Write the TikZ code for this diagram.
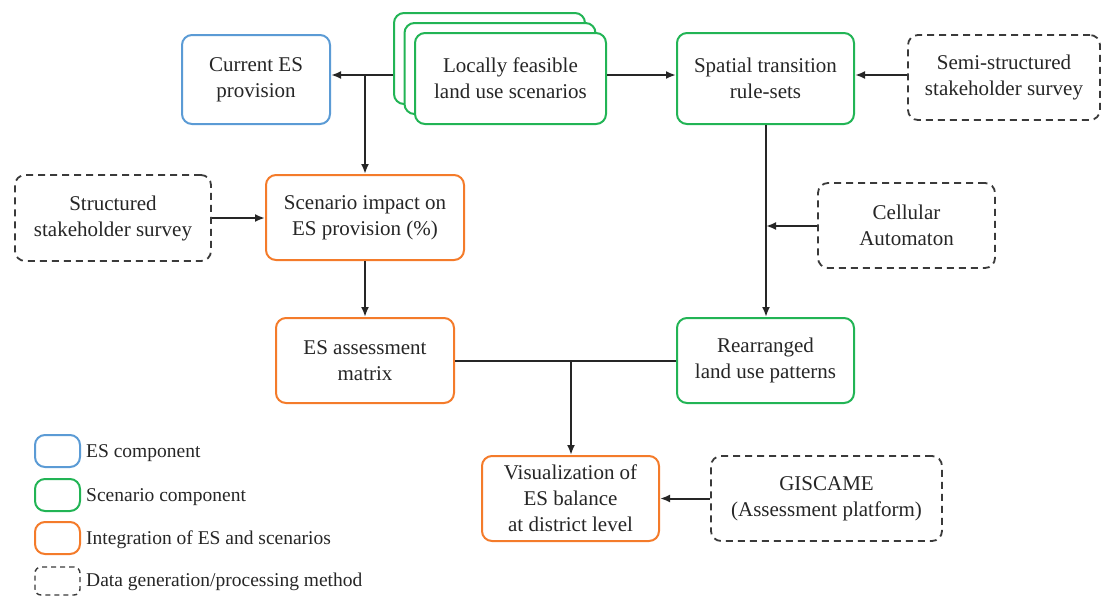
\documentclass[tikz,border=0pt]{standalone}
\usepackage{fontspec}
\setmainfont{Liberation Serif}
\usetikzlibrary{arrows.meta}
\definecolor{esblue}{HTML}{5B9BD5}
\definecolor{scgreen}{HTML}{22B455}
\definecolor{intorange}{HTML}{F47B2A}
\definecolor{methgray}{HTML}{3A3A3A}
\definecolor{txt}{HTML}{262626}
\tikzset{
  box/.style={draw, rounded corners=10pt, line width=2pt, align=center,
    inner sep=0pt, text=txt, fill=white,
    font=\fontsize{21}{26}\selectfont},
  esbox/.style={box, draw=esblue},
  scbox/.style={box, draw=scgreen},
  intbox/.style={box, draw=intorange},
  methbox/.style={box, draw=methgray, line width=1.8pt,
    dash pattern=on 7pt off 5pt},
  arr/.style={line width=2pt, draw=black!85,
    -{Latex[length=10pt,width=8pt]}},
  link/.style={line width=2pt, draw=black!85},
  legtext/.style={anchor=west, inner sep=0pt, text=txt,
    font=\fontsize{19.5}{24}\selectfont}
}
\begin{document}
\begin{tikzpicture}[x=1pt, y=-1pt]
\useasboundingbox (0,0) rectangle (1102,595);

% ES component
\node[esbox, minimum width=148pt, minimum height=89pt] (cur) at (256,79.5)
  {Current ES\\provision};

% stacked scenario boxes
\node[scbox, minimum width=191pt, minimum height=91pt] (scback) at (489.5,58.5) {};
\node[scbox, minimum width=191pt, minimum height=91pt] (scmid) at (500,68.5) {};
\node[scbox, minimum width=191pt, minimum height=91pt] (scen) at (510.5,78.5)
  {Locally feasible\\land use scenarios};

\node[scbox, minimum width=177pt, minimum height=91pt] (spat) at (765.5,78.5)
  {Spatial transition\\rule-sets};
\node[methbox, minimum width=192pt, minimum height=85pt] (semi) at (1004,77.5)
  {Semi-structured\\stakeholder survey};

\node[methbox, minimum width=196pt, minimum height=86pt] (struct) at (113,218)
  {Structured\\stakeholder survey};
\node[intbox, minimum width=198pt, minimum height=85pt] (impact) at (365,217.5)
  {Scenario impact on\\ES provision (\%)};
\node[methbox, minimum width=177pt, minimum height=85pt] (cell) at (906.5,225.5)
  {Cellular\\Automaton};

\node[intbox, minimum width=178pt, minimum height=85pt] (esam) at (365,360.5)
  {ES assessment\\matrix};
\node[scbox, minimum width=177pt, minimum height=85pt] (rearr) at (765.5,360.5)
  {Rearranged\\land use patterns};

\node[intbox, minimum width=177pt, minimum height=85pt] (vis) at (570.5,498.5)
  {Visualization of\\ES balance\\at district level};
\node[methbox, minimum width=231pt, minimum height=85pt] (gis) at (826.5,498.5)
  {GISCAME\\(Assessment platform)};

% junction points
\coordinate (top) at (365,75);
\coordinate (ca) at (766,226);
\coordinate (mid) at (571,361);

% connectors
\draw[arr] (scback.west |- top) -- (cur.east |- top);
\draw[arr] (top) -- (impact.north -| top);
\draw[arr] (scen.east |- top) -- (spat.west |- top);
\draw[arr] (semi.west |- top) -- (spat.east |- top);
\draw[arr] (spat.south -| ca) -- (rearr.north -| ca);
\draw[arr] (cell.west |- ca) -- (ca);
\draw[arr] (struct.east) -- (impact.west |- struct.east);
\draw[arr] (impact.south) -- (esam.north);
\draw[link] (esam.east |- mid) -- (rearr.west |- mid);
\draw[arr] (mid) -- (vis.north -| mid);
\draw[arr] (gis.west) -- (vis.east);

% legend
\node[esbox, minimum width=45pt, minimum height=32pt] (lg1) at (57.5,451) {};
\node[scbox, minimum width=45pt, minimum height=32pt] (lg2) at (57.5,495) {};
\node[intbox, minimum width=45pt, minimum height=32pt] (lg3) at (57.5,538) {};
\node[methbox, line width=1.4pt, rounded corners=6pt, dash pattern=on 5pt off 4pt,
  minimum width=45pt, minimum height=28pt] (lg4) at (57.5,581) {};
\node[legtext] (lt1) at (86,453) {ES component};
\node[legtext] (lt2) at (86,497) {Scenario component};
\node[legtext] (lt3) at (86,540) {Integration of ES and scenarios};
\node[legtext] (lt4) at (86,582) {Data generation/processing method};
\end{tikzpicture}
\end{document}
